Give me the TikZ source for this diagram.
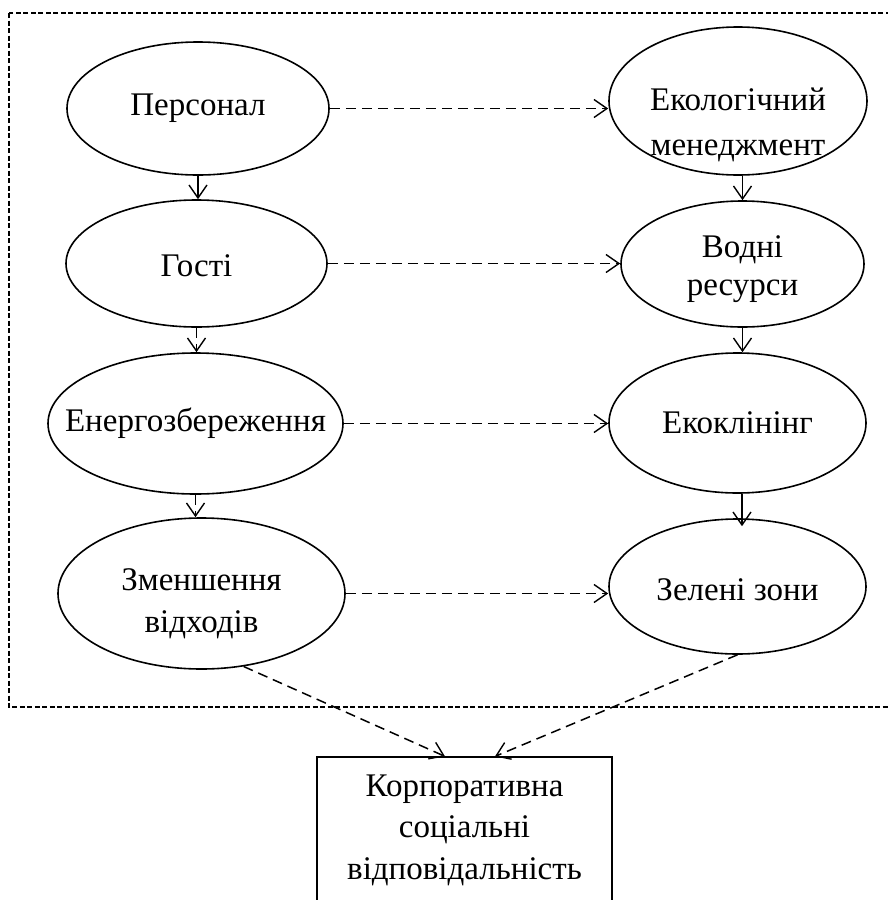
\documentclass[tikz,border=0pt]{standalone}
\usepackage{fontspec}
\setmainfont{Liberation Serif}
\usetikzlibrary{arrows.meta,calc,shapes.geometric}
\begin{document}
\begin{tikzpicture}[x=1pt,y=-1pt,
  every node/.style={font=\fontsize{33}{42}\selectfont},
  elps/.style={draw,ellipse,line width=1.6pt,inner sep=0pt},
  conn/.style={line width=1.5pt,-{Straight Barb[length=13pt,width=18pt,line width=1.4pt]}},
  dconn/.style={conn,dash pattern=on 10pt off 6pt},
  frame/.style={line width=1.3pt,dash pattern=on 5pt off 2.5pt},
  boxst/.style={draw,rectangle,line width=1.2pt,inner sep=0pt,align=center}]
\useasboundingbox (0,0) rectangle (887,900);
\draw[frame] (9,13) rectangle (892,707);
% left column
\node[elps,minimum width=262pt,minimum height=133pt,label={center:Персонал}] (p) at (198,108.5) {};
\node[elps,minimum width=261pt,minimum height=127pt,label={[yshift=-2.5pt]center:Гості}] (g) at (196.5,263.5) {};
\node[elps,minimum width=295pt,minimum height=141pt,label={center:Енергозбереження}] (en) at (195.5,423.5) {};
\node[elps,minimum width=287pt,minimum height=151pt,label={[align=center,yshift=-10pt]center:Зменшення\\відходів}] (zm) at (201.5,593.5) {};
% right column
\node[elps,minimum width=258pt,minimum height=148pt,label={[align=center,font=\fontsize{33}{45}\selectfont,yshift=-24pt]center:Екологічний\\менеджмент}] (e) at (738,101) {};
\node[elps,minimum width=243pt,minimum height=126pt,label={[align=center,font=\fontsize{33}{38}\selectfont,yshift=-5pt]center:Водні\\ресурси}] (v) at (742.5,264) {};
\node[elps,minimum width=257pt,minimum height=140pt,label={center:Екоклінінг}] (ek) at (737.5,423) {};
\node[elps,minimum width=257pt,minimum height=135pt,label={[yshift=-3.5pt]center:Зелені зони}] (zz) at (737.5,586.5) {};
% box
\node[boxst,minimum width=295pt,minimum height=146pt,font=\fontsize{33}{41.5}\selectfont] (k) at (464.5,830) {Корпоративна\\соціальні\\відповідальність};
% horizontal
\draw[dconn] (p.east) -- (p.east -| e.west);
\draw[dconn] (g.east) -- (g.east -| v.west);
\draw[dconn] (en.east) -- (en.east -| ek.west);
\draw[dconn] (zm.east) -- (zm.east -| zz.west);
% vertical left
\draw[conn] (p.south) -- (p.south |- g.north);
\draw[dconn] (g.south) -- (g.south |- en.north);
\draw[dconn] (en.south) -- (en.south |- zm.north);
% vertical right
\draw[conn] (v.north |- e.south) -- (v.north);
\draw[conn] (v.south) -- (v.south |- ek.north);
\draw[conn] ($(ek.south)+(4.5,0)$) -- ($(zz.north)+(4.5,8)$);
% to box
\draw[dconn] (zm.-60) -- ($(k.north)+(-19.5,0)$);
\draw[dconn] (zz.south) -- ($(k.north)+(30.5,0)$);
\end{tikzpicture}
\end{document}
